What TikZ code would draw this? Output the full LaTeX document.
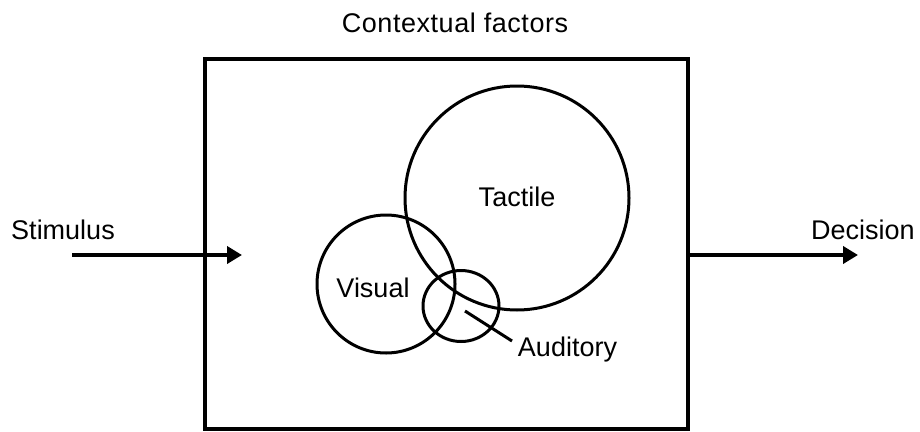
\documentclass[tikz,border=0pt]{standalone}
\usepackage{fontspec}
\setmainfont{Liberation Sans}
\usetikzlibrary{arrows.meta,shapes.geometric}
\begin{document}
\begin{tikzpicture}[x=1pt,y=-1pt,
  lbl/.style={font=\fontsize{27}{32}\selectfont, inner sep=0pt},
  ring/.style={draw, line width=3pt},
  flow/.style={line width=4.5pt, -{Triangle[length=15pt,width=17pt]}}]
\useasboundingbox (0,0) rectangle (920,431);
% frame
\node[draw, line width=3.8pt, minimum width=483pt, minimum height=370pt, inner sep=0pt] (frame) at (446.5,244) {};
\node[lbl] (ctx) at (455,23) {\addfontfeature{LetterSpace=2}Contextual factors};
% circles
\node[ring, circle, minimum size=224pt, inner sep=0pt] (tactile) at (517,198) {};
\node[ring, circle, minimum size=138pt, inner sep=0pt] (visual) at (386,284) {};
\node[ring, ellipse, minimum width=76pt, minimum height=71pt, inner sep=0pt] (aud) at (461,306) {};
\node[lbl] (tactileT) at (517,197) {Tactile};
\node[lbl] (visualT) at (373,288) {Visual};
\node[lbl] (audT) at (567.5,350) {Auditory};
\coordinate (p1) at (465,311);
\coordinate (p2) at (512,341);
\draw[line width=3pt] (p1) -- (p2);
% arrows
\node[lbl] (stim) at (63,230) {Stimulus};
\node[lbl] (dec) at (863,230) {Decision};
\coordinate (s1) at (72,255);
\coordinate (s2) at (242,255);
\coordinate (d1) at (688,255);
\coordinate (d2) at (858,255);
\draw[flow] (s1) -- (s2);
\draw[flow] (d1) -- (d2);
\end{tikzpicture}
\end{document}
